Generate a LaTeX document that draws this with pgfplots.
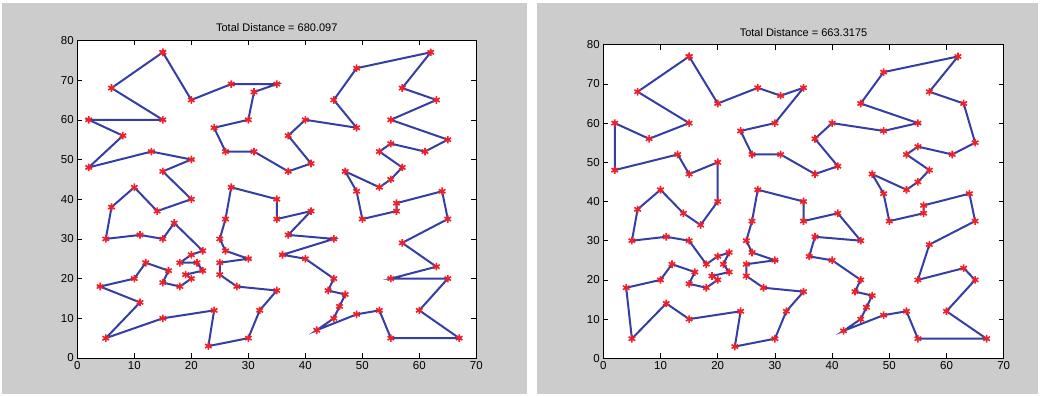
\documentclass[border=0pt]{standalone}
\usepackage{fontspec}
\setmainfont{Liberation Sans}
\usepackage{pgfplots}
\pgfplotsset{compat=1.18}
\definecolor{figgray}{RGB}{204,204,204}
\definecolor{tourblue}{RGB}{52,62,165}
\definecolor{markred}{RGB}{238,32,42}
\pgfplotsset{tsp/.style={scale only axis, anchor=south west,
  xmin=0,xmax=70,ymin=0,ymax=80,
  xtick={0,10,...,70}, ytick={0,10,...,80},
  tick align=inside, major tick length=5pt,
  axis background/.style={fill=white},
  /pgf/number format/assume math mode=true,
  tick label style={font=\fontsize{11.5}{13}\selectfont},
  title style={font=\fontsize{11}{13}\selectfont, yshift=-1pt},
  axis line style={black, line width=0.6pt},
  every tick/.style={black, line width=0.6pt},
  tour/.style={tourblue, line width=2pt, mark=asterisk, mark size=3.8pt,
    mark options={markred, line width=1.6pt}}}}
\begin{document}
\begin{tikzpicture}
\path[use as bounding box] (0pt,0pt) rectangle (1040pt,396pt);
\fill[white] (0pt,0pt) rectangle (1040pt,396pt);
\fill[figgray] (2pt,2pt) rectangle (527pt,393pt);
\fill[figgray] (537pt,2pt) rectangle (1038pt,393pt);
\begin{axis}[tsp, at={(77.3pt,38pt)}, width=399pt, height=317.6pt,
  title={Total Distance = 680.097}]
\addplot[tour] coordinates {
(15,77) (6,68) (15,60) (2,60) (8,56) (2,48) (13,52) (20,50) (15,47) (20,40)
(14,37) (10,43) (6,38) (5,30) (11,31) (15,30) (17,34) (22,27) (20,26) (18,24)
(21,24) (22,22) (19,21) (20,20) (18,18) (15,19) (16,22) (12,24) (10,20) (4,18)
(11,14) (5,5) (15,10) (24,12) (23,3) (30,5) (32,12) (35,17) (28,18) (25,21)
(25,24) (30,25) (26,27) (25,30) (26,35) (27,43) (35,40) (35,35) (41,37) (37,31)
(45,30) (36,26) (40,25) (45,20) (44,17) (47,16) (46,13) (45,10) (42,7) (49,11)
(53,12) (55,5) (67,5) (60,12) (65,20) (55,20) (63,23) (57,29) (65,35) (64,42)
(56,39) (56,37) (50,35) (49,42) (47,47) (53,43) (55,45) (57,48) (53,52) (55,54)
(61,52) (65,55) (55,60) (63,65) (57,68) (62,77) (49,73) (45,65) (49,58) (40,60)
(37,56) (41,49) (37,47) (31,52) (26,52) (24,58) (30,60) (31,67) (35,69) (27,69)
(20,65) (15,77)};
\end{axis}
\begin{axis}[tsp, at={(603.3pt,37.7pt)}, width=400.4pt, height=313.6pt,
  title={Total Distance = 663.3175}]
\addplot[tour] coordinates {
(15,77) (6,68) (15,60) (8,56) (2,60) (2,48) (13,52) (15,47) (20,50) (20,40)
(17,34) (14,37) (10,43) (6,38) (5,30) (11,31) (15,30) (18,24) (20,26) (22,27)
(21,24) (22,22) (19,21) (20,20) (18,18) (15,19) (16,22) (12,24) (10,20) (4,18)
(5,5) (11,14) (15,10) (24,12) (23,3) (30,5) (32,12) (35,17) (28,18) (25,21)
(25,24) (30,25) (26,27) (25,30) (26,35) (27,43) (35,40) (35,35) (41,37) (45,30)
(37,31) (36,26) (40,25) (45,20) (44,17) (47,16) (46,13) (45,10) (42,7) (49,11)
(53,12) (55,5) (67,5) (60,12) (65,20) (63,23) (55,20) (57,29) (65,35) (64,42)
(56,39) (56,37) (50,35) (49,42) (47,47) (53,43) (55,45) (57,48) (53,52) (55,54)
(61,52) (65,55) (63,65) (57,68) (62,77) (49,73) (45,65) (55,60) (49,58) (40,60)
(37,56) (41,49) (37,47) (31,52) (26,52) (24,58) (30,60) (35,69) (31,67) (27,69)
(20,65) (15,77)};
\end{axis}
\end{tikzpicture}
\end{document}
